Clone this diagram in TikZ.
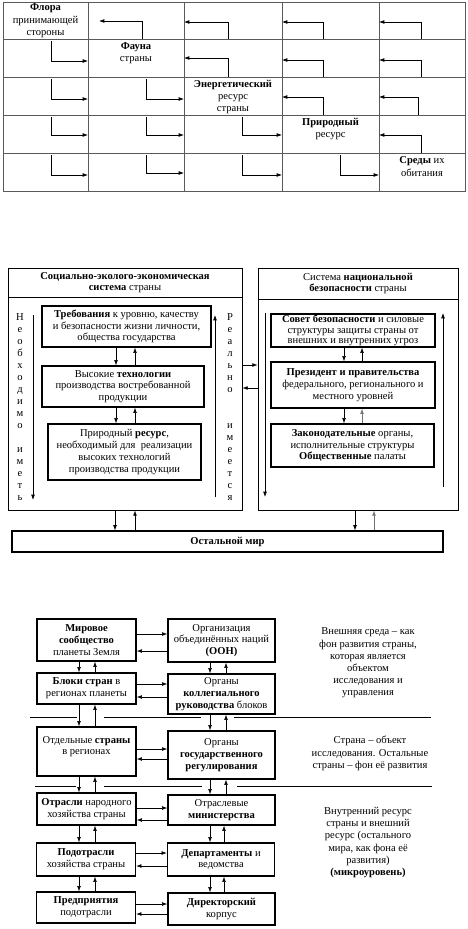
\documentclass[tikz,border=0pt]{standalone}
\usepackage{fontspec}
\setmainfont{Liberation Serif}
\usetikzlibrary{arrows.meta}
\tikzset{
  cell/.style={align=center, inner sep=0pt, font=\fontsize{9}{10.6}\selectfont},
  box/.style={draw, line width=1.1pt, align=center, inner sep=0pt, font=\fontsize{9}{10}\selectfont},
  panel/.style={draw, line width=0.7pt, align=center, inner sep=0pt, font=\fontsize{9}{10}\selectfont},
  bw/.style={minimum width=#1*0.03cm},
  bh/.style={minimum height=#1*0.03cm},
  note/.style={align=center, inner sep=0pt, font=\fontsize{9}{10.4}\selectfont},
  letters/.style={align=center, inner sep=0pt, font=\fontsize{9}{10.2}\selectfont},
  grid line/.style={draw=black!65, line width=0.6pt},
}
\begin{document}
\begin{tikzpicture}[x=0.03cm, y=-0.03cm, >={Latex[length=4.5pt,width=3.2pt]}, line width=0.5pt]
\useasboundingbox (0,0) rectangle (467,929);

% Table of the resources
\draw[grid line] (3,2) rectangle (465,191);
\foreach \y in {39,77,115,153} \draw[grid line] (3,\y) -- (465,\y);
\foreach \x in {88,184,282,379} \draw[grid line] (\x,2) -- (\x,191);

\node[cell] (flora) at (45.5,21) {\textbf{Флора}\\принимающей\\стороны};
\node[cell] (fauna) at (136,53) {\textbf{Фауна}\\страны};
\node[cell] (energ) at (233,97) {\textbf{Энергетический}\\ресурс\\страны};
\node[cell] (prirod) at (330.5,129) {\textbf{Природный}\\ресурс};
\node[cell] (sredy) at (422,166.5) {\textbf{Среды} их\\обитания};

% arrows above the diagonal
\draw[->] (142,39) |- (99,21);
\draw[->] (228,39) |- (184,22);
\draw[->] (323,39) |- (282,22);
\draw[->] (421,39) |- (379,22);
\draw[->] (228,77) |- (184,58);
\draw[->] (323,77) |- (282,60);
\draw[->] (421,77) |- (379,60);
\draw[->] (323,115) |- (282,97);
\draw[->] (418,115) |- (379,97);
\draw[->] (421,153) |- (379,135);
% arrows below the diagonal
\draw[->] (51,41) |- (88,61);
\draw[->] (51,79) |- (88,99);
\draw[->] (146,79) |- (184,99);
\draw[->] (51,117) |- (88,135);
\draw[->] (146,117) |- (184,135);
\draw[->] (242,117) |- (282,135);
\draw[->] (51,155) |- (88,175);
\draw[->] (146,155) |- (184,173);
\draw[->] (242,155) |- (282,175);
\draw[->] (340,155) |- (379,175);

% Two systems of the country
\node[panel, bw=234, bh=29] (sestitle) at (125,282.5) {\textbf{Социально-эколого-экономическая}\\\textbf{система} страны};
\node[panel, bw=234, bh=213] (sesbody) at (125,403.5) {};
\node[panel, bw=200, bh=31] (snbtitle) at (358,283.5) {Система \textbf{национальной}\\\textbf{безопасности} страны};
\node[panel, bw=200, bh=211] (snbbody) at (358,404.5) {};

\node[box, bw=169, bh=41] (trebov) at (126.5,326.5) {\textbf{Требования} к уровню, качеству\\и безопасности жизни личности,\\общества государства};
\node[box, bw=162, bh=41] (tehn) at (123,386.5) {Высокие \textbf{технологии}\\производства востребованной\\продукции};
\node[box, bw=153, bh=56] (resurs) at (124.5,452) {Природный \textbf{ресурс},\\необходимый для~ реализации\\высоких технологий\\производства продукции};

\node[box, bw=164, bh=33, font=\fontsize{9}{9.2}\selectfont] (sovet) at (353,330.5) {\textbf{Совет безопасности} и силовые\\структуры защиты страны от\\внешних и внутренних угроз};
\node[box, bw=164, bh=46] (prez) at (353,385) {\textbf{Президент и правительства}\\федерального, регионального и\\местного уровней};
\node[box, bw=163, bh=43] (zakon) at (352.5,445.5) {\textbf{Законодательные} органы,\\исполнительные структуры\\\textbf{Общественные} палаты};

\node[letters] (nado) at (20,407) {Н\\е\\о\\б\\х\\о\\д\\и\\м\\о\\\mbox{}\\и\\м\\е\\т\\ь};
\node[letters] (real) at (230,407) {Р\\е\\а\\л\\ь\\н\\о\\\mbox{}\\\mbox{}\\и\\м\\е\\е\\т\\с\\я};

\node[panel, bw=431, bh=21, line width=0.9pt] (ostmir) at (227.5,541.5) {\textbf{Остальной мир}};

\draw[->] (33,315) -- (33,500);
\draw[->] (215,497) -- (215,315);
\draw[->] (265,313) -- (265,497);
\draw[->] (443,487) -- (443,313);

\draw[->] (trebov.south -| 116,0) -- (tehn.north -| 116,0);
\draw[->] (tehn.north -| 135,0) -- (trebov.south -| 135,0);
\draw[->] (tehn.south -| 116,0) -- (resurs.north -| 116,0);
\draw[->] (resurs.north -| 135,0) -- (tehn.south -| 135,0);
\draw[->] (sovet.south -| 344,0) -- (prez.north -| 344,0);
\draw[->] (prez.north -| 362,0) -- (sovet.south -| 362,0);
\draw[->] (prez.south -| 344,0) -- (zakon.north -| 344,0);
\draw[->, black!55] (zakon.north -| 362,0) -- (prez.south -| 362,0);

\draw[->] (sesbody.east |- 0,365) -- (snbbody.west |- 0,365);
\draw[->] (snbbody.west |- 0,388) -- (sesbody.east |- 0,388);

\draw[->] (sesbody.south -| 115,0) -- (ostmir.north -| 115,0);
\draw[->] (ostmir.north -| 135,0) -- (sesbody.south -| 135,0);
\draw[->] (snbbody.south -| 355,0) -- (ostmir.north -| 355,0);
\draw[->, black!55] (ostmir.north -| 374,0) -- (snbbody.south -| 374,0);

% Levels of management
\node[box, bw=99, bh=42] (mir) at (86.5,640) {\textbf{Мировое}\\\textbf{сообщество}\\планеты Земля};
\node[box, bw=107, bh=43] (oon) at (221.5,640.5) {Организация\\объединённых наций\\\textbf{(ООН)}};
\node[box, bw=99, bh=31] (bloki) at (86.5,688.5) {\textbf{Блоки стран} в\\регионах планеты};
\node[box, bw=107, bh=40] (kolleg) at (221.5,694) {Органы\\\textbf{коллегиального}\\\textbf{руководства} блоков};
\node[box, bw=99, bh=49] (strany) at (86.5,751.5) {Отдельные \textbf{страны}\\в регионах\\\mbox{}};
\node[box, bw=107, bh=48] (gosreg) at (221.5,755) {Органы\\\textbf{государственного}\\\textbf{регулирования}};
\node[box, bw=99, bh=32] (otrasli) at (86.5,809) {\textbf{Отрасли} народного\\хозяйства страны};
\node[box, bw=107, bh=30] (minist) at (221.5,810) {Отраслевые\\\textbf{министерства}};
\node[box, bw=99, bh=33] (podotr) at (86,859.5) {\textbf{Подотрасли}\\хозяйства страны};
\node[box, bw=107, bh=33] (depart) at (221,859.5) {\textbf{Департаменты} и\\ведомства};
\node[box, bw=99, bh=31] (predpr) at (86,907.5) {\textbf{Предприятия}\\подотрасли};
\node[box, bw=107, bh=32] (direkt) at (221.5,909) {\textbf{Директорский}\\корпус};

\node[note] (vnesh) at (368,663) {Внешняя среда – как\\фон развития страны,\\которая является\\объектом\\исследования и\\управления};
\node[note] (strana) at (370,753.5) {Страна – объект\\исследования. Остальные\\страны – фон её развития};
\node[note] (vnutr) at (368,842.5) {Внутренний ресурс\\страны и внешний\\ресурс (остального\\мира, как фона её\\развития)\\\textbf{(микроуровень)}};

\draw (30,717) -- (77,717);
\draw (104,717) -- (201,717);
\draw (234,717) -- (431,717);
\draw (35,786) -- (76,786);
\draw (104,786) -- (202,786);
\draw (237,786) -- (432,786);

\draw[->] (mir.east |- 0,634) -- (oon.west |- 0,634);
\draw[->] (oon.west |- 0,651) -- (mir.east |- 0,651);
\draw[->] (bloki.east |- 0,684) -- (kolleg.west |- 0,684);
\draw[->] (kolleg.west |- 0,697) -- (bloki.east |- 0,697);
\draw[->] (strany.east |- 0,749) -- (gosreg.west |- 0,749);
\draw[->] (gosreg.west |- 0,759) -- (strany.east |- 0,759);
\draw[->] (otrasli.east |- 0,808) -- (minist.west |- 0,808);
\draw[->] (minist.west |- 0,820) -- (otrasli.east |- 0,820);
\draw[->] (podotr.east |- 0,853) -- (depart.west |- 0,853);
\draw[->] (depart.west |- 0,866) -- (podotr.east |- 0,866);
\draw[->] (predpr.east |- 0,904) -- (direkt.west |- 0,904);
\draw[->] (direkt.west |- 0,914) -- (predpr.east |- 0,914);

\draw[->] (mir.south -| 79,0) -- (bloki.north -| 79,0);
\draw[->] (bloki.north -| 95,0) -- (mir.south -| 95,0);
\draw[->] (bloki.south -| 79,0) -- (strany.north -| 79,0);
\draw[->] (strany.north -| 95,0) -- (bloki.south -| 95,0);
\draw[->] (strany.south -| 79,0) -- (otrasli.north -| 79,0);
\draw[->] (otrasli.north -| 95,0) -- (strany.south -| 95,0);
\draw[->] (otrasli.south -| 79,0) -- (podotr.north -| 79,0);
\draw[->] (podotr.north -| 95,0) -- (otrasli.south -| 95,0);
\draw[->] (podotr.south -| 79,0) -- (predpr.north -| 79,0);
\draw[->] (predpr.north -| 95,0) -- (podotr.south -| 95,0);

\draw[->] (oon.south -| 210,0) -- (kolleg.north -| 210,0);
\draw[->] (kolleg.north -| 226,0) -- (oon.south -| 226,0);
\draw[->] (kolleg.south -| 210,0) -- (gosreg.north -| 210,0);
\draw[->] (gosreg.north -| 226,0) -- (kolleg.south -| 226,0);
\draw[->] (gosreg.south -| 210,0) -- (minist.north -| 210,0);
\draw[->] (minist.north -| 226,0) -- (gosreg.south -| 226,0);
\draw[->] (minist.south -| 210,0) -- (depart.north -| 210,0);
\draw[->] (depart.north -| 224,0) -- (minist.south -| 224,0);
\draw[->] (depart.south -| 210,0) -- (direkt.north -| 210,0);
\draw[->] (direkt.north -| 224,0) -- (depart.south -| 224,0);
\end{tikzpicture}
\end{document}
